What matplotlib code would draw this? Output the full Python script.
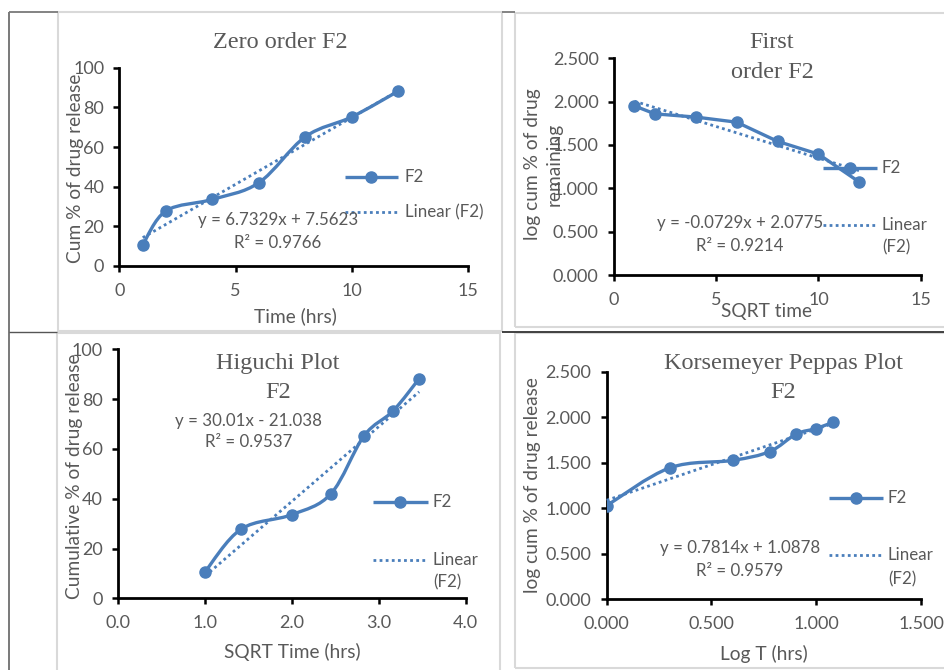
import numpy as np
import matplotlib
matplotlib.use("Agg")
import matplotlib.pyplot as plt
from matplotlib.lines import Line2D
from matplotlib.patches import Rectangle, PathPatch
from matplotlib.path import Path

# release data
time_hrs = [1, 2, 4, 6, 8, 10, 12]
cum_release = [10.7, 27.8, 33.6, 42.0, 65.2, 75.2, 88.2]
sqrt_time = [1.000, 1.414, 2.000, 2.449, 2.828, 3.162, 3.464]
log_time = [0.000, 0.301, 0.602, 0.778, 0.903, 1.000, 1.079]
log_release = [1.029, 1.444, 1.526, 1.623, 1.814, 1.876, 1.945]
log_remaining = [1.951, 1.859, 1.822, 1.763, 1.542, 1.394, 1.072]

# trendline coefficients (slope, intercept) and R2 as printed
zero_fit = (6.7329, 7.5623, 0.9766)
first_fit = (-0.0729, 2.0775, 0.9214)
higuchi_fit = (30.01, -21.038, 0.9537)
peppas_fit = (0.7814, 1.0878, 0.9579)

W, H = 945, 670
BLUE = "#4a7ebb"
GREY = "#595959"
SANS = ["Lato", "DejaVu Sans"]
SERIF = "Liberation Serif"
TICK = 13
LAB = 13.8
SMALL = 12.2

fig = plt.figure(figsize=(W / 100, H / 100), dpi=100)
fig.patch.set_facecolor("white")


def fp(x, y):
    return x / W, 1 - y / H


def txt(x, y, s, size=SMALL, ha="center", family=SANS, **kw):
    fig.text(*fp(x, y), s, ha=ha, va="center", fontsize=size, color=GREY,
             family=family, **kw)


def fline(x0, x1, y0, y1, color, lw):
    fig.add_artist(Line2D([x0 / W, x1 / W], [1 - y0 / H, 1 - y1 / H],
                          transform=fig.transFigure, color=color, lw=lw,
                          solid_capstyle="butt"))


def smooth_path(xs, ys):
    # excel style smoothed line: bezier segments through every point
    p = np.column_stack([xs, ys]).astype(float)
    ext = np.vstack([p[0], p, p[-1]])
    verts = [p[0]]
    codes = [Path.MOVETO]
    for i in range(len(p) - 1):
        c1 = ext[i + 1] + (ext[i + 2] - ext[i]) / 6
        c2 = ext[i + 2] - (ext[i + 3] - ext[i + 1]) / 6
        verts += [c1, c2, ext[i + 2]]
        codes += [Path.CURVE4] * 3
    return Path(verts, codes)


def make_axes(x0, x1, y0, y1, xlim, ylim, xticks, yticks, xfmt, yfmt):
    ax = fig.add_axes([x0 / W, 1 - y1 / H, (x1 - x0) / W, (y1 - y0) / H])
    ax.set_xlim(*xlim)
    ax.set_ylim(*ylim)
    ax.set_xticks(xticks)
    ax.set_yticks(yticks)
    ax.set_xticklabels([xfmt.format(v) for v in xticks])
    ax.set_yticklabels([yfmt.format(v) for v in yticks])
    for s in ["top", "right"]:
        ax.spines[s].set_visible(False)
    for s in ["left", "bottom"]:
        ax.spines[s].set_color("black")
        ax.spines[s].set_linewidth(2)
    ax.tick_params(direction="out", length=4, width=1.8, color="black",
                   labelcolor=GREY, labelsize=TICK)
    ax.tick_params(axis="y", pad=7)
    ax.tick_params(axis="x", pad=8)
    for lab in ax.get_xticklabels() + ax.get_yticklabels():
        lab.set_family(SANS)
    ax.patch.set_alpha(0)
    return ax


def draw_series(ax, xs, ys, fit, smooth=True):
    if smooth:
        ax.add_patch(PathPatch(smooth_path(xs, ys), fill=False, ec=BLUE,
                               lw=2.4, zorder=2))
    else:
        ax.plot(xs, ys, color=BLUE, lw=2.4, zorder=2)
    ax.plot(xs, ys, ls="none", marker="o", ms=8, color=BLUE, zorder=3)
    tx = np.array([min(xs), max(xs)])
    ax.plot(tx, fit[0] * tx + fit[1], color=BLUE, lw=2, ls=(0, (1, 1.2)),
            zorder=4, clip_on=False)


def legend(x0, x1, y_f2, y_lin, xt, two_line, lin2=None):
    fline(x0, x1, y_f2, y_f2, BLUE, 2.4)
    fig.add_artist(Line2D([(x0 + x1) / 2 / W], [1 - y_f2 / H], marker="o",
                          ms=8, color=BLUE, transform=fig.transFigure))
    fig.add_artist(Line2D([x0 / W, x1 / W], [1 - y_lin / H] * 2, color=BLUE,
                          lw=2, ls=(0, (1, 1.2)), transform=fig.transFigure))
    txt(xt, y_f2, "F2", ha="left")
    if two_line:
        txt(xt, y_lin, "Linear", ha="left")
        txt(xt, lin2, "(F2)", ha="left")
    else:
        txt(xt, y_lin, "Linear (F2)", ha="left")


def eq_text(x, y1, y2, fit):
    sign = "+" if fit[1] >= 0 else "-"
    txt(x, y1, "y = {}x {} {}".format(fit[0], sign, abs(fit[1])))
    txt(x, y2, "R\u00b2 = {}".format(fit[2]))


# chart frames
for (x0, x1, y0, y1) in [(58, 502, 12.5, 331), (515, 947, 12.5, 327),
                         (57, 500, 332.5, 672), (515, 947, 332.5, 668)]:
    fig.add_artist(Rectangle((x0 / W, 1 - y1 / H), (x1 - x0) / W, (y1 - y0) / H,
                             transform=fig.transFigure, fill=False,
                             ec="#d9d9d9", lw=1.5))
# table rules
fline(9.5, 9.5, 12, 672, "#6e6e6e", 1.3)
fline(9, 58, 12, 12, "#7a7a7a", 1.3)
fline(502, 515, 12, 12, "#7a7a7a", 1.3)
fline(9, 57, 331.5, 331.5, "#555555", 1.0)
fline(502, 947, 331.5, 331.5, "#333333", 1.3)

# zero order
ax1 = make_axes(119.5, 468, 67.7, 266, (0, 15), (0, 100), [0, 5, 10, 15],
                [0, 20, 40, 60, 80, 100], "{}", "{}")
draw_series(ax1, time_hrs, cum_release, zero_fit)
txt(280, 43, "Zero order F2", size=17.5, family=SERIF)
txt(76, 168, "Cum % of drug release", size=LAB, rotation=90)
txt(295, 316, "Time (hrs)", size=LAB)
eq_text(278, 220, 243, zero_fit)
legend(345, 398, 177, 212, 405, False)

# first order
ax2 = make_axes(614, 920.7, 58.3, 275, (0, 15), (0, 2.5), [0, 5, 10, 15],
                [0, 0.5, 1.0, 1.5, 2.0, 2.5], "{}", "{:.3f}")
draw_series(ax2, time_hrs, log_remaining, first_fit, smooth=False)
txt(772, 43, "First", size=17.5, family=SERIF)
txt(772, 72, "order F2", size=17.5, family=SERIF)
txt(533, 164, "log cum % of drug", size=LAB, rotation=90)
txt(554, 164, "remaining", size=LAB, rotation=90)
txt(767, 312, "SQRT time", size=LAB)
eq_text(740, 223, 246, first_fit)
legend(823, 877, 168, 225, 882, True, 247)

# higuchi
ax3 = make_axes(118.3, 465.7, 349.3, 598.3, (0, 4), (0, 100),
                [0, 1, 2, 3, 4], [0, 20, 40, 60, 80, 100], "{:.1f}", "{}")
draw_series(ax3, sqrt_time, cum_release, higuchi_fit)
txt(278, 364, "Higuchi Plot", size=17.5, family=SERIF)
txt(278, 392, "F2", size=17.5, family=SERIF)
txt(75, 476, "Cumulative % of drug release", size=LAB, rotation=90)
txt(292, 652, "SQRT Time (hrs)", size=LAB)
eq_text(249, 421, 442, higuchi_fit)
legend(373, 428, 502, 560, 433, True, 582)

# korsmeyer peppas
ax4 = make_axes(606.7, 921, 371.7, 599.3, (0, 1.5), (0, 2.5),
                [0, 0.5, 1.0, 1.5], [0, 0.5, 1.0, 1.5, 2.0, 2.5],
                "{:.3f}", "{:.3f}")
draw_series(ax4, log_time, log_release, peppas_fit)
txt(783, 364, "Korsemeyer Peppas Plot", size=17.5, family=SERIF)
txt(783, 392, "F2", size=17.5, family=SERIF)
txt(533, 485, "log cum % of drug release", size=LAB, rotation=90)
txt(764, 654, "Log T (hrs)", size=LAB)
eq_text(740, 548, 571, peppas_fit)
legend(829, 883, 498, 555, 888, True, 579)

fig.savefig("out.png", dpi=100)
